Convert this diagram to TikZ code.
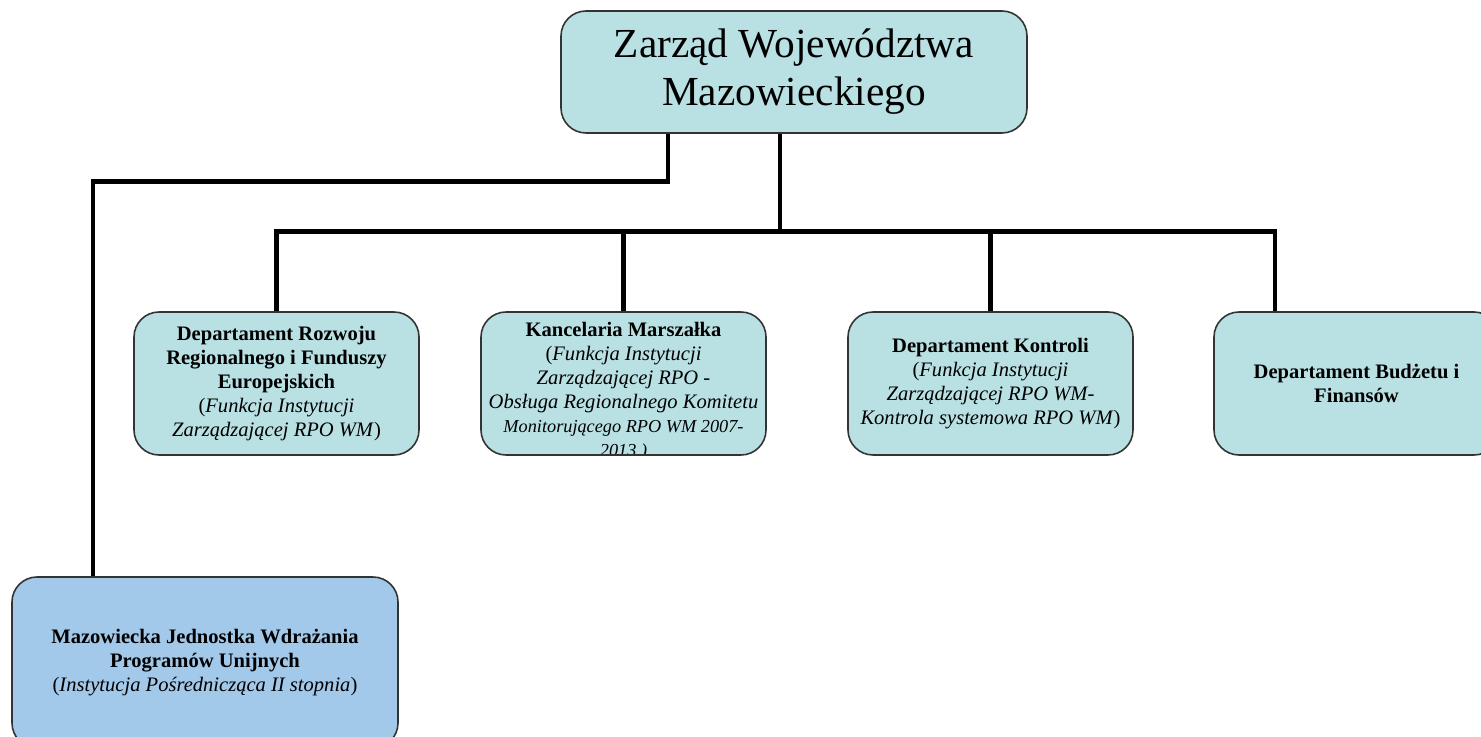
\documentclass[tikz,border=0pt]{standalone}
\usepackage{fontspec}
\setmainfont{Liberation Serif}
\usetikzlibrary{calc}
\definecolor{boxcyan}{RGB}{185,224,227}
\definecolor{boxblue}{RGB}{162,200,234}
\tikzset{
	unit/.style={draw=black!80, line width=0.9pt, fill=boxcyan, rounded corners=0.5cm,
		minimum width=5.7cm, minimum height=2.86cm, align=center, inner sep=0pt,
		font=\fontsize{11.7}{13.6}\selectfont},
	link/.style={line width=2.8pt, line join=miter},
}

\begin{document}
\begin{tikzpicture}

\clip (0,0) rectangle (29.62,14.72);

%========================
% Top: board
%========================
\node[unit, minimum width=9.32cm, minimum height=2.44cm,
	font=\fontsize{23.5}{27}\selectfont] (zarzad) at (15.88,13.28)
	{\raisebox{-0.1cm}{\begin{tabular}{@{}c@{}}Zarząd Województwa\\Mazowieckiego\end{tabular}}};

%========================
% Row of departments
%========================
\node[unit] (drrfe) at (5.53,7.05)
	{\textbf{Departament Rozwoju}\\\textbf{Regionalnego i Funduszy}\\\textbf{Europejskich}\\
	(\textit{Funkcja Instytucji}\\\textit{Zarządzającej RPO WM})};
\node[unit, path picture={
	\node[align=center, inner sep=0pt, font=\fontsize{11.7}{13.6}\selectfont]
	at ([yshift=-0.16cm]path picture bounding box.center)
	{\textbf{Kancelaria Marszałka}\\(\textit{Funkcja Instytucji}\\\textit{Zarządzającej RPO -}\\
		\textit{Obsługa Regionalnego Komitetu}\\
		{\fontsize{10.4}{12.8}\selectfont\textit{Monitorującego RPO WM 2007-}}\\
		{\fontsize{10.4}{12.8}\selectfont\textit{2013 )}}};
	}] (kancelaria) at (12.47,7.05) {};
\node[unit] (kontrola) at (19.81,7.05)
	{\textbf{Departament Kontroli}\\(\textit{Funkcja Instytucji}\\\textit{Zarządzającej RPO WM-}\\
	\textit{Kontrola systemowa RPO WM})};
\node[unit] (budzet) at (27.13,7.05)
	{\textbf{Departament Budżetu i}\\\textbf{Finansów}};

%========================
% Bottom: intermediate body
%========================
\node[unit, fill=boxblue, minimum width=7.72cm, minimum height=3.42cm] (mjwpu) at (4.1,1.47)
	{\textbf{Mazowiecka Jednostka Wdrażania}\\\textbf{Programów Unijnych}\\
	(\textit{Instytucja Pośrednicząca II stopnia})};

%========================
% Connectors
%========================
\draw[link] ([xshift=-2.52cm]zarzad.south) -- ++(0,-0.96) -| ([xshift=-2.24cm]mjwpu.north);
\draw[link] ([xshift=-0.28cm]zarzad.south) -- ++(0,-1.96) coordinate (bus);
\draw[link] (bus) -| (drrfe.north);
\draw[link] (bus) -| (kancelaria.north);
\draw[link] (bus) -| (kontrola.north);
\draw[link] (bus) -| ([xshift=-1.63cm]budzet.north);

\end{tikzpicture}
\end{document}
